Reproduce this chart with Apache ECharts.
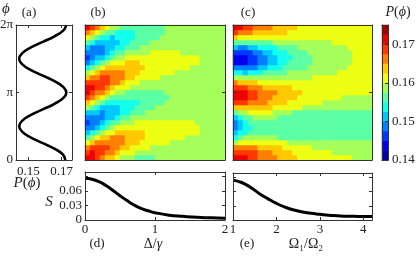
<!DOCTYPE html>
<html>
<head>
<meta charset="utf-8">
<script src="https://cdn.jsdelivr.net/npm/echarts@6.0.0/dist/echarts.min.js"></script>
<style>html,body{margin:0;padding:0;background:#fff;}#chart{width:416px;height:258px;}</style>
</head>
<body>
<div id="chart"></div>
<script>
// ---------- panel (a): P(phi) at the left edge ----------
const phiA = [0, 0.083, 0.167, 0.25, 0.333, 0.417, 0.5, 0.583, 0.667, 0.75, 0.833, 0.917, 1, 1.083, 1.167, 1.25, 1.333, 1.417, 1.5, 1.583, 1.667, 1.75, 1.833, 1.917, 2];
const pA = [0.1722, 0.1707, 0.1656, 0.1587, 0.1516, 0.1464, 0.1445, 0.1464, 0.1516, 0.1587, 0.1657, 0.1709, 0.1728, 0.1709, 0.1657, 0.1587, 0.1516, 0.1464, 0.1445, 0.1464, 0.1516, 0.1587, 0.1657, 0.1709, 0.1728];
const aTicks = [0.15, 0.17];
const phiTicks = [0, 1, 2];
const phiTickText = {0: '0', 1: 'π', 2: '2π'};

// ---------- heat maps (b) and (c): contour level per cell (hex digit) ----------
const bDelta = [0.036,0.107,0.179,0.25,0.321,0.393,0.464,0.536,0.607,0.679,0.75,0.821,0.893,0.964,1.036,1.107,1.179,1.25,1.321,1.393,1.464,1.536,1.607,1.679,1.75,1.821,1.893,1.964];
const cRatio = [1.057,1.171,1.286,1.4,1.514,1.629,1.743,1.857,1.971,2.086,2.2,2.314,2.429,2.543,2.657,2.771,2.886,3.0,3.114,3.229,3.343,3.457,3.571,3.686,3.8,3.914,4.029,4.143];
const phiRows = [0.037,0.111,0.185,0.259,0.333,0.407,0.481,0.556,0.63,0.704,0.778,0.852,0.926,1.0,1.074,1.148,1.222,1.296,1.37,1.444,1.519,1.593,1.667,1.741,1.815,1.889,1.963];
// rows from phi = 0 (bottom) to 2pi (top)
const bLevels = [
 'ccba998777'+'6666'+'77777777777777',
 'bcbbaa9888'+'777777777777777777',
 'abbbbaa998888'+'777777777777777',
 '89aaaaaa999888888'+'77777777777',
 '67899'+'aaa'+'9999'+'88888888'+'77777777',
 '456788'+'999999'+'88888888888'+'77777',
 '334567'+'88888888888888888'+'77777',
 '2334566777'+'888888888888'+'777777',
 '3333445667'+'777777777777777777',
 '444344455666'+'7777777777777777',
 '76544445556666'+'77777777777777',
 '98765555555'+'66666'+'777777777777',
 'ba987'+'666666666666'+'77777777777',
 'cbaa9877'+'66666666'+'777777777777',
 'ccbba9888'+'7777777777777777777',
 'bbbbbaa9888'+'77777777777777777',
 '9aabbaaa99'+'88888'+'7777777777777',
 '789aaaaa999'+'8888888'+'7777777777',
 '5678'+'99999999'+'888888888'+'7777777',
 '34567888999'+'888888888888'+'77777',
 '23445677'+'888888888888888'+'77777',
 '33334566'+'77777'+'888888'+'777777777',
 '43334455666'+'77777777777777777',
 '6544444556666'+'777777777777777',
 '876554555566666'+'7777777777777',
 'a987665555666666'+'777777777777',
 'cba9877'+'666666666'+'777777777777'
];
const cLevels = [
 'cccbbaaaa9999'+'88888888888'+'7777',
 'bbbbbaaa9999'+'88888888'+'77777777',
 'aaaaa99999'+'888888'+'777777777777',
 '7'+'8888888888'+'77777777777777777',
 '567777777'+'6666666666666666666',
 '455'+'6666666666666666666666666',
 '3455'+'666666666666666666666666',
 '345'+'6666666666666666666666666',
 '456677777'+'6666666666666666666',
 '677888887777'+'6666666666666666',
 '99999999'+'888888'+'77777777777777',
 'bbbaaaa9999'+'8888888'+'7777777777',
 'cccbbaaa99999'+'888888888'+'777777',
 'cccbbaaaa99999'+'88888888888888',
 'bbbaaa999999'+'8888888888888888',
 'a9999'+'88888888888888888888888',
 '7777777777777777'+'888888888888',
 '55455566666'+'7777777777'+'8888888',
 '333334455566666'+'77777777'+'88888',
 '11122334455'+'66666'+'77777777'+'8888',
 '111223344555'+'6666'+'77777777'+'8888',
 '22223344555'+'6666'+'777777777'+'8888',
 '433445555'+'6666'+'7777777777'+'88888',
 '66666666'+'777777777777'+'88888888',
 '9'+'888888888888888888888888888',
 'baaa9999999'+'88888888888888888',
 'ccbbaaaa99999'+'888888888888888'
];
const LMIN = 0.14, LSTEP = 0.0025;           // contour level spacing of P(phi)
const cbLevels = [0,1,2,3,4,5,6,7,8,9,10,11,12,13];
const cbTicks = [0.14, 0.15, 0.16, 0.17];
const jet = ['rgb(0,0,164)','rgb(0,0,237)','rgb(0,55,255)','rgb(0,128,255)','rgb(0,200,255)','rgb(18,255,237)','rgb(91,255,164)','rgb(164,255,91)','rgb(237,255,18)','rgb(255,200,0)','rgb(255,128,0)','rgb(255,55,0)','rgb(237,0,0)','rgb(164,0,0)'];

// ---------- panels (d) and (e): S ----------
const dX = [0, 0.1, 0.2, 0.3, 0.4, 0.5, 0.6, 0.7, 0.8, 0.9, 1.0, 1.2, 1.4, 1.6, 1.8, 2.0];
const dS = [0.086, 0.084, 0.079, 0.071, 0.061, 0.050, 0.040, 0.031, 0.024, 0.019, 0.015, 0.010, 0.0075, 0.0055, 0.0045, 0.0035];
const eX = [1.0, 1.2, 1.4, 1.6, 1.8, 2.0, 2.2, 2.4, 2.6, 2.8, 3.0, 3.2, 3.4, 3.6, 3.8, 4.0, 4.2];
const eS = [0.084, 0.079, 0.069, 0.056, 0.045, 0.035, 0.027, 0.021, 0.017, 0.014, 0.012, 0.010, 0.009, 0.008, 0.0077, 0.0075, 0.0075];
const dTicks = [0, 1, 2], eTicks = [1, 2, 3, 4];
const sTicks = [0, 0.03, 0.06, 0.09], sLabels = [0, 0.03, 0.06];

// ---------- build ----------
const FONT = '"Liberation Serif", "DejaVu Serif", serif';
const INK = '#222', FRAME = '#333';
function levelValue(ch) { return LMIN + LSTEP * (parseInt(ch, 16) + 0.5); }
function heat(levels, ncol) {
  const out = [];
  levels.forEach((row, r) => {
    for (let u = 0; u < ncol; u++) {
      const ch = row[u] !== undefined ? row[u] : row[row.length - 1];
      out.push([u, r, levelValue(ch)]);
    }
  });
  return out;
}
function vAxis(grid, pos, min, max, ticks, labels, lab) {
  return {
    type: 'value', gridIndex: grid, position: pos, min: min, max: max, z: 5,
    axisLine: {show: true, onZero: false, lineStyle: {color: FRAME, width: 1}},
    splitLine: {show: false},
    axisTick: ticks ? {show: true, inside: true, length: 3, customValues: ticks, lineStyle: {color: FRAME, width: 1}} : {show: false},
    axisLabel: labels ? Object.assign({show: true, customValues: labels, fontFamily: FONT, fontSize: 13, color: INK, margin: 4}, lab || {}) : {show: false}
  };
}
function catAxis(grid, data) {
  return {type: 'category', gridIndex: grid, data: data, show: false, boundaryGap: true};
}
const G = (l, t, w, h) => ({left: l, top: t, width: w, height: h, containLabel: false, outerBoundsMode: 'none'});
const grids = [
  G(16, 25, 56, 135),   // 0 a
  G(85, 25, 140, 135),  // 1 b heat
  G(85, 25, 140, 135),  // 2 b frame
  G(233, 25, 139, 135), // 3 c heat
  G(233, 25, 139, 135), // 4 c frame
  G(382, 25, 6, 135),   // 5 colorbar heat
  G(382, 25, 6, 135),   // 6 colorbar frame
  G(85, 172, 140, 48),  // 7 d
  G(233, 173, 139, 47)  // 8 e
];
const AMIN = 0.1426, AMAX = 0.1762, SMAX = 0.099;
const xAxes = [
  vAxis(0, 'bottom', AMIN, AMAX, aTicks, aTicks, {formatter: v => v.toFixed(2), margin: 5}), //0
  vAxis(0, 'top', AMIN, AMAX, aTicks, null),          //1
  catAxis(1, bDelta),                                  //2
  vAxis(2, 'bottom', 0, 2, null, null),                //3
  vAxis(2, 'top', 0, 2, null, null),                   //4
  catAxis(3, cRatio),                                  //5
  vAxis(4, 'bottom', 1, 4.2, null, null),              //6
  vAxis(4, 'top', 1, 4.2, null, null),                 //7
  catAxis(5, ['']),                                    //8
  vAxis(6, 'bottom', 0, 1, null, null),                //9
  vAxis(6, 'top', 0, 1, null, null),                   //10
  vAxis(7, 'bottom', 0, 2, dTicks, dTicks, {margin: 3}), //11
  vAxis(7, 'top', 0, 2, dTicks, null),                 //12
  vAxis(8, 'bottom', 1, 4.2, eTicks, eTicks, {margin: 3}), //13
  vAxis(8, 'top', 1, 4.2, eTicks, null)                //14
];
const yAxes = [
  vAxis(0, 'left', 0, 2, phiTicks, phiTicks, {formatter: v => phiTickText[v], margin: 3}), //0
  vAxis(0, 'right', 0, 2, phiTicks, null),             //1
  catAxis(1, phiRows),                                 //2
  vAxis(2, 'left', 0, 2, [1], null),                   //3
  vAxis(2, 'right', 0, 2, [1], null),                  //4
  catAxis(3, phiRows),                                 //5
  vAxis(4, 'left', 0, 2, [1], null),                   //6
  vAxis(4, 'right', 0, 2, [1], null),                  //7
  catAxis(5, cbLevels),                                //8
  vAxis(6, 'left', LMIN, LMIN + LSTEP * cbLevels.length, null, null), //9
  vAxis(6, 'right', LMIN, LMIN + LSTEP * cbLevels.length, cbTicks, cbTicks, {formatter: v => v.toFixed(2), margin: 4, fontSize: 13}), //10
  vAxis(7, 'left', 0, SMAX, sTicks, sLabels, {formatter: v => v === 0 ? '0' : v.toFixed(2), margin: 3}), //11
  vAxis(7, 'right', 0, SMAX, sTicks, null),            //12
  vAxis(8, 'left', 0, SMAX, sTicks, null),             //13
  vAxis(8, 'right', 0, SMAX, sTicks, null)             //14
];
const heatCommon = {type: 'heatmap', itemStyle: {borderWidth: 0}, emphasis: {disabled: true}, progressive: 0, animation: false};
const series = [
  {type: 'line', xAxisIndex: 0, yAxisIndex: 0, data: pA.map((p, i) => [p, phiA[i]]), showSymbol: false, smooth: true,
   lineStyle: {color: '#000', width: 2.6}, animation: false},
  Object.assign({xAxisIndex: 2, yAxisIndex: 2, data: heat(bLevels, bDelta.length)}, heatCommon),
  Object.assign({xAxisIndex: 5, yAxisIndex: 5, data: heat(cLevels, cRatio.length)}, heatCommon),
  Object.assign({xAxisIndex: 8, yAxisIndex: 8, data: cbLevels.map((l, i) => [0, i, LMIN + LSTEP * (l + 0.5)])}, heatCommon),
  {type: 'line', xAxisIndex: 11, yAxisIndex: 11, data: dX.map((x, i) => [x, dS[i]]), showSymbol: false, smooth: true,
   lineStyle: {color: '#000', width: 3}, animation: false},
  {type: 'line', xAxisIndex: 13, yAxisIndex: 13, data: eX.map((x, i) => [x, eS[i]]), showSymbol: false, smooth: true,
   lineStyle: {color: '#000', width: 3}, animation: false}
];
const pieces = jet.map((c, i) => ({gte: LMIN + LSTEP * i, lt: LMIN + LSTEP * (i + 1), color: c}));
function txt(x, y, text, size, italic) {
  return {type: 'text', x: x, y: y, z: 100, style: {text: text, fill: INK,
    font: (italic ? 'italic ' : '') + size + 'px ' + FONT, textAlign: 'center', textVerticalAlign: 'middle',
    rich: {i: {fontStyle: 'italic', fontSize: size, fontFamily: FONT, fill: INK}}}};
}
const labels = [
  txt(6, 9, 'ϕ', 15, true),
  txt(29, 13, '(a)', 13),
  txt(98, 13, '(b)', 13),
  txt(248, 13, '(c)', 13),
  txt(398, 12, '{i|P}({i|ϕ})', 14),
  txt(27, 183, '{i|P}({i|ϕ})', 15),
  txt(49, 202, 'S', 15, true),
  txt(97, 244, '(d)', 13),
  txt(153, 244, 'Δ/{i|γ}', 14),
  txt(247, 244, '(e)', 13),
  txt(306, 244, 'Ω₁/Ω₂', 14)
];
const chart = echarts.init(document.getElementById('chart'), null, {renderer: 'canvas'});
chart.setOption({
  animation: false,
  backgroundColor: '#fff',
  textStyle: {fontFamily: FONT},
  grid: grids,
  xAxis: xAxes,
  yAxis: yAxes,
  visualMap: {type: 'piecewise', show: false, dimension: 2, seriesIndex: [1, 2, 3], pieces: pieces},
  series: series,
  graphic: {elements: labels}
});
</script>
</body>
</html>
